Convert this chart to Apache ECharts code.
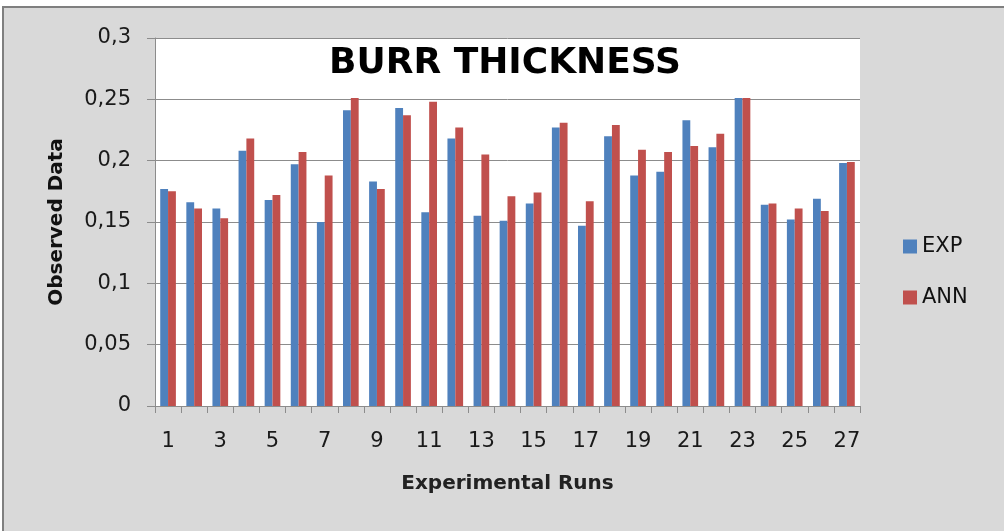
<!DOCTYPE html>
<html lang="en">
<head>
    <meta charset="UTF-8">
    <title>Burr thickness</title>
    <script src="https://cdn.jsdelivr.net/npm/echarts@6/dist/echarts.min.js"></script>
    <style>
        html, body { margin: 0; padding: 0; background: #fff; overflow: hidden; }
        #frame { position: absolute; left: 2px; top: 6px; right: 0; bottom: 0;
                 background: #d9d9d9; border-left: 2px solid #7f7f7f; border-top: 2px solid #7f7f7f; }
        #chart { position: absolute; left: 0; top: 0; width: 1004px; height: 531px; }
    </style>
</head>
<body>
<div id="frame"></div>
<div id="chart"></div>
<script type="text/javascript">
    // experimental runs 1..27
    var runs = ['1','2','3','4','5','6','7','8','9','10','11','12','13','14','15','16','17','18','19','20','21','22','23','24','25','26','27'];
    var expData = [0.177,0.166,0.161,0.208,0.168,0.197,0.150,0.241,0.183,0.243,0.158,0.218,0.155,0.151,0.165,0.227,0.147,0.220,0.188,0.191,0.233,0.211,0.251,0.164,0.152,0.169,0.198];
    var annData = [0.175,0.161,0.153,0.218,0.172,0.207,0.188,0.251,0.177,0.237,0.248,0.227,0.205,0.171,0.174,0.231,0.167,0.229,0.209,0.207,0.212,0.222,0.251,0.165,0.161,0.159,0.199];
    var yTicks = [0, 0.05, 0.1, 0.15, 0.2, 0.25, 0.3];

    var font = 'DejaVu Sans';
    var chart = echarts.init(document.getElementById('chart'), null, {renderer: 'canvas'});
    var option = {
        backgroundColor: 'transparent',
        animation: false,
        title: {
            text: 'BURR THICKNESS',
            left: 500, top: 41, textAlign: 'center',
            textStyle: {fontFamily: font, fontWeight: 'bold', fontSize: 36, color: '#000'}
        },
        legend: {
            orient: 'vertical',
            left: 898, top: 231,
            itemWidth: 14, itemHeight: 14, itemGap: 30,
            icon: 'rect',
            textStyle: {fontFamily: font, fontSize: 21, color: '#111'},
            data: ['EXP', 'ANN']
        },
        grid: {
            left: 155, top: 38, right: 144, bottom: 125,
            show: true, backgroundColor: '#fff', borderWidth: 0
        },
        xAxis: {
            type: 'category',
            data: runs,
            name: 'Experimental Runs',
            nameLocation: 'middle',
            nameGap: 68,
            nameTextStyle: {fontFamily: font, fontWeight: 'bold', fontSize: 20, color: '#222'},
            axisLine: {lineStyle: {color: '#8c8c8c', width: 1}},
            axisTick: {show: true, interval: 0, length: 7, lineStyle: {color: '#8c8c8c'}},
            axisLabel: {interval: 1, margin: 25, fontFamily: font, fontSize: 21, color: '#1a1a1a'}
        },
        yAxis: {
            type: 'value',
            min: yTicks[0], max: yTicks[yTicks.length - 1], interval: 0.05,
            name: 'Observed Data',
            nameLocation: 'middle',
            nameGap: 88,
            nameTextStyle: {fontFamily: font, fontWeight: 'bold', fontSize: 20, color: '#111'},
            axisLine: {show: true, lineStyle: {color: '#8c8c8c', width: 1}},
            axisTick: {show: true, length: 8, lineStyle: {color: '#8c8c8c'}},
            splitLine: {lineStyle: {color: '#8c8c8c', width: 1}},
            axisLabel: {
                margin: 24, fontFamily: font, fontSize: 21, color: '#1a1a1a',
                formatter: function (v) {
                    return String(parseFloat(v.toFixed(2))).replace('.', ',');
                }
            }
        },
        series: [
            {
                name: 'EXP', type: 'bar', data: expData,
                itemStyle: {color: '#4f81bd'},
                barGap: '0%', barCategoryGap: '40%'
            },
            {
                name: 'ANN', type: 'bar', data: annData,
                itemStyle: {color: '#c0504d'}
            }
        ]
    };
    chart.setOption(option);
</script>
</body>
</html>
